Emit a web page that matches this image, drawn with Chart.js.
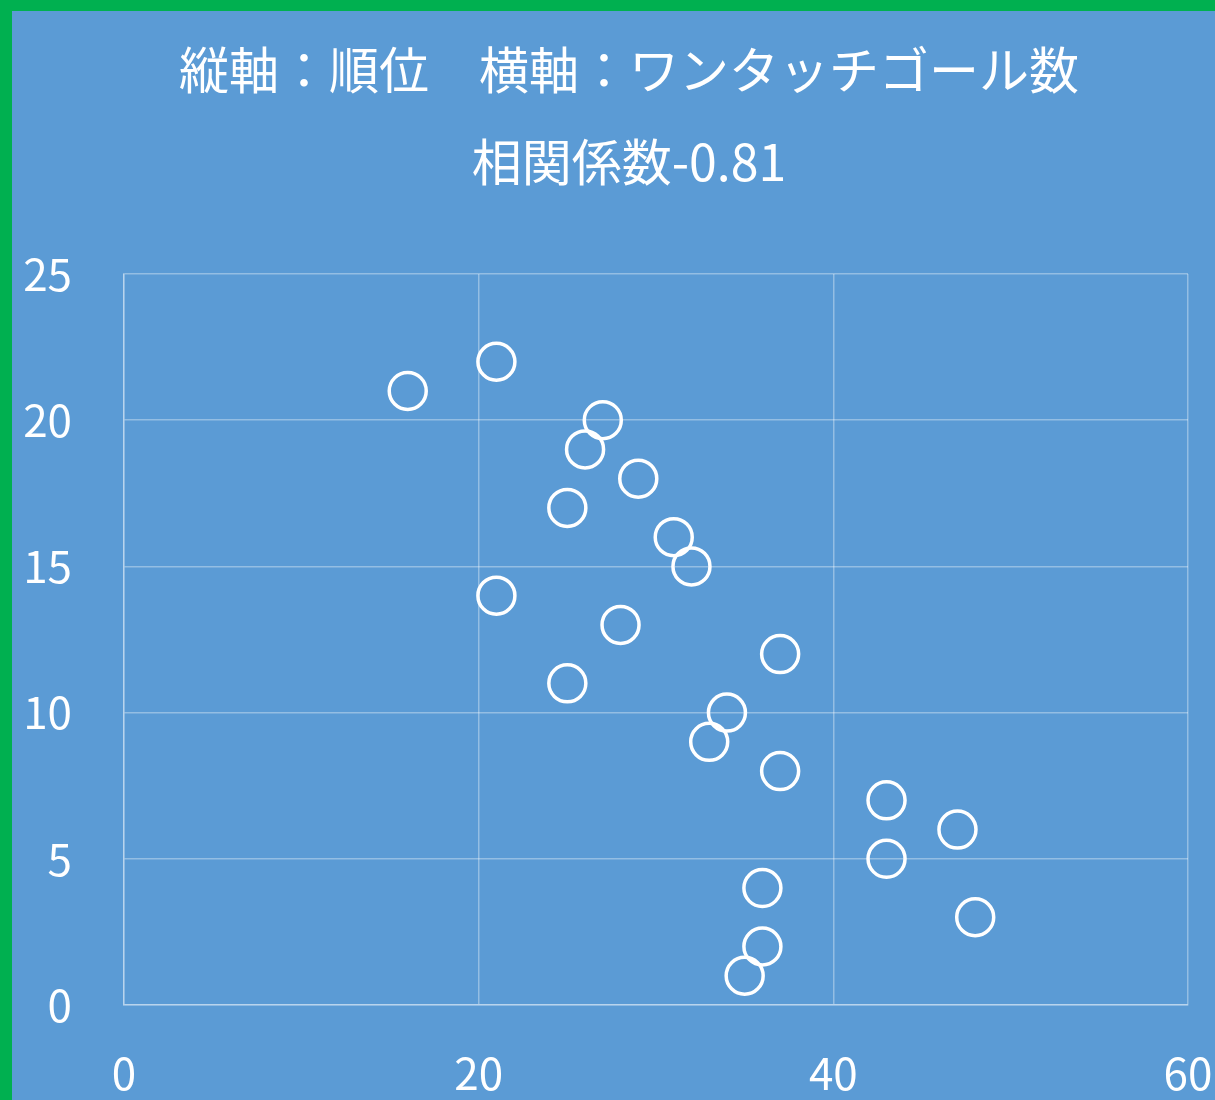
<!DOCTYPE html>
<html lang="ja">
<head>
<meta charset="utf-8">
<title>順位とワンタッチゴール数</title>
<script src="https://cdn.jsdelivr.net/npm/chart.js@4/dist/chart.umd.min.js"></script>
<style>
  html, body { margin: 0; padding: 0; background: #5b9bd5; }
  #frame {
    width: 1203px; height: 1089px;
    border-left: 12px solid #00b050;
    border-top: 11px solid #00b050;
    background: #5b9bd5;
  }
  #c { display: block; }
</style>
</head>
<body>
<div id="frame"><canvas id="c" width="1203" height="1089"></canvas></div>
<script>
// ワンタッチゴール数 (横軸) と 順位 (縦軸)
const oneTouchGoals = [16, 21, 27, 26, 29, 25, 31, 32, 21, 28, 37, 25, 34, 33, 37, 43, 47, 43, 36, 48, 36, 35];
const ranks         = [21, 22, 20, 19, 18, 17, 16, 15, 14, 13, 12, 11, 10,  9,  8,  7,  6,  5,  4,  3,  2,  1];

const titleLines = ['縦軸：順位　横軸：ワンタッチゴール数', '相関係数-0.81'];
const xTicks = [0, 20, 40, 60];
const yTicks = [0, 5, 10, 15, 20, 25];

const FONT = '"Noto Sans CJK JP", "Noto Sans", sans-serif';
const gridCol = 'rgba(255,255,255,0.35)';

const points = oneTouchGoals.map((x, i) => ({ x, y: ranks[i] }));

// タイトルは Excel 同様に少し右寄りなので自前で描く
const titlePlugin = {
  id: 'twoLineTitle',
  afterDraw(chart) {
    const ctx = chart.ctx;
    ctx.save();
    ctx.fillStyle = '#ffffff';
    ctx.font = `50px ${FONT}`;
    ctx.textAlign = 'center';
    ctx.textBaseline = 'middle';
    titleLines.forEach((t, i) => ctx.fillText(t, 617, 59 + i * 92));
    ctx.restore();
  },
};

new Chart(document.getElementById('c'), {
  type: 'scatter',
  data: {
    datasets: [{
      data: points,
      pointStyle: 'circle',
      pointRadius: 18.5,
      pointHoverRadius: 18.5,
      borderWidth: 3.5,
      borderColor: '#ffffff',
      backgroundColor: 'rgba(0,0,0,0)',
    }],
  },
  plugins: [titlePlugin],
  options: {
    responsive: false,
    animation: false,
    layout: { padding: { top: 263, left: 0, right: 0, bottom: 0 } },
    plugins: {
      legend: { display: false },
      tooltip: { enabled: false },
      title: { display: false },
    },
    scales: {
      x: {
        type: 'linear',
        min: 0, max: 60,
        afterBuildTicks: s => { s.ticks = xTicks.map(v => ({ value: v })); },
        afterFit: s => { s.height = 95; s.paddingLeft = 0; s.paddingRight = 27; },
        grid: { color: gridCol, lineWidth: 1.5, drawTicks: false },
        border: { color: gridCol, width: 1.5 },
        ticks: { color: '#ffffff', font: { family: FONT, size: 44 }, padding: 42, maxRotation: 0 },
      },
      y: {
        type: 'linear',
        min: 0, max: 25,
        afterBuildTicks: s => { s.ticks = yTicks.map(v => ({ value: v })); },
        afterFit: s => { s.width = 112; s.paddingTop = 0; },
        grid: { color: gridCol, lineWidth: 1.5, drawTicks: false },
        border: { color: gridCol, width: 1.5 },
        ticks: { color: '#ffffff', font: { family: FONT, size: 44 }, padding: 52 },
      },
    },
  },
});
</script>
</body>
</html>
